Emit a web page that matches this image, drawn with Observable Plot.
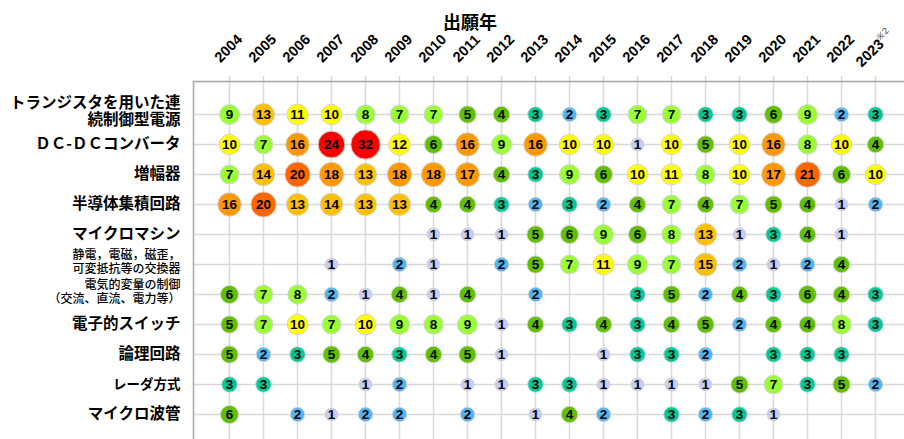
<!DOCTYPE html>
<html>
<head>
<meta charset="utf-8">
<script src="https://cdn.jsdelivr.net/npm/d3@7"></script>
<script src="https://cdn.jsdelivr.net/npm/@observablehq/plot@0.6"></script>
<style>
  html, body { margin: 0; padding: 0; background: #fff; }
  #chart svg { display: block; }
</style>
</head>
<body>
<div id="chart"></div>
<script>
// ---- data ----
const years = ["2004","2005","2006","2007","2008","2009","2010","2011","2012","2013","2014","2015","2016","2017","2018","2019","2020","2021","2022","2023"];
const yearLabels = ["2004","2005","2006","2007","2008","2009","2010","2011","2012","2013","2014","2015","2016","2017","2018","2019","2020","2021","2022","2023※2"];
const chartTitle = "出願年";

const categories = [
  "トランジスタを用いた連続制御型電源",
  "ＤＣ-ＤＣコンバータ",
  "増幅器",
  "半導体集積回路",
  "マイクロマシン",
  "静電，電磁，磁歪，可変抵抗等の交換器",
  "電気的変量の制御（交流、直流、電力等）",
  "電子的スイッチ",
  "論理回路",
  "レーダ方式",
  "マイクロ波管"
];
const categoryLabels = [
  "トランジスタを用いた連\n続制御型電源",
  "ＤＣ-ＤＣコンバータ",
  "増幅器",
  "半導体集積回路",
  "マイクロマシン",
  "静電，電磁，磁歪，\n可変抵抗等の交換器",
  "電気的変量の制御\n（交流、直流、電力等）",
  "電子的スイッチ",
  "論理回路",
  "レーダ方式",
  "マイクロ波管"
];

const vTransistorPower = [9,13,11,10,8,7,7,5,4,3,2,3,7,7,3,3,6,9,2,3];
const vDcDc            = [10,7,16,24,32,12,6,16,9,16,10,10,1,10,5,10,16,8,10,4];
const vAmplifier       = [7,14,20,18,13,18,18,17,4,3,9,6,10,11,8,10,17,21,6,10];
const vSemiconductorIC = [16,20,13,14,13,13,4,4,3,2,3,2,4,7,4,7,5,4,1,2];
const vMicromachine    = [null,null,null,null,null,null,1,1,1,5,6,9,6,8,13,1,3,4,1,null];
const vTransducer      = [null,null,null,1,null,2,1,null,2,5,7,11,9,7,15,2,1,2,4,null];
const vElecControl     = [6,7,8,2,1,4,1,4,null,2,null,null,3,5,2,4,3,6,4,3];
const vElecSwitch      = [5,7,10,7,10,9,8,9,1,4,3,4,3,4,5,2,4,4,8,3];
const vLogicCircuit    = [5,2,3,5,4,3,4,5,1,null,null,1,3,3,2,null,3,3,3,null];
const vRadar           = [3,3,null,null,1,2,null,1,1,3,3,1,1,1,1,5,7,3,5,2];
const vMicrowaveTube   = [6,null,2,1,2,2,null,2,null,1,4,2,null,3,2,3,1,null,null,null];

const seriesValues = [vTransistorPower, vDcDc, vAmplifier, vSemiconductorIC, vMicromachine,
  vTransducer, vElecControl, vElecSwitch, vLogicCircuit, vRadar, vMicrowaveTube];

// ---- table built from the arrays ----
const cells = [];
categories.forEach((c, i) => {
  seriesValues[i].forEach((v, j) => {
    if (v != null) cells.push({category: c, year: years[j], value: v});
  });
});
const labelRows = categories.map((c, i) => ({category: c, label: categoryLabels[i]}));
const firstLabelRows = labelRows.slice(0, 1);
const smallLabelRows = labelRows.filter((d, i) => i > 0 && d.label.includes("\n"));
const bigLabelRows = labelRows.filter((d, i) => i > 0 && !d.label.includes("\n") && d.category !== "レーダ方式");
const radarLabelRows = labelRows.filter(d => d.category === "レーダ方式");

const palette = ["#c5ccf5","#4fb5f5","#00c896","#60c000","#99ff33","#ffff00","#ffc000","#ff9900","#ff6600","#ff0000"];
const font = "'Noto Sans CJK JP', 'Noto Sans', sans-serif";
const numFont = "'Liberation Sans', Arial, sans-serif";
const labelStyle = {y: "category", text: "label", frameAnchor: "left", textAnchor: "end", dx: -13, fill: "#000"};

const chart = Plot.plot({
  width: 904,
  height: 439,
  marginTop: 81,
  marginLeft: 193,
  marginRight: 0,
  marginBottom: 0,
  style: {fontFamily: font, background: "#fff", color: "#000"},
  x: {type: "point", domain: years, range: [226, 878], padding: 0, axis: null},
  y: {type: "point", domain: categories, range: [112, 415], padding: 0, axis: null},
  r: {type: "sqrt", domain: [0, 32], range: [4.7, 14.7]},
  color: {type: "threshold", domain: [2,3,4,7,10,13,16,20,24], range: palette},
  marks: [
    Plot.ruleX(years, {x: d => d, stroke: "#d9d9d9", strokeWidth: 1.5, insetTop: -5}),
    Plot.ruleY(categories, {y: d => d, stroke: "#d9d9d9", strokeWidth: 1.5}),
    Plot.frame({anchor: "top", stroke: "#a6a6a6", strokeWidth: 1.5}),
    Plot.frame({anchor: "left", stroke: "#a6a6a6", strokeWidth: 1.5}),
    Plot.dot(cells, {x: "year", y: "category", r: "value", fill: "value", stroke: "#d4d4d4", strokeWidth: 1}),
    Plot.text(cells, {x: "year", y: "category", text: d => String(d.value), fill: "#000",
      fontWeight: "bold", fontSize: 13.5, fontFamily: numFont}),
    Plot.text(years, {x: d => d, text: (d, i) => yearLabels[i], frameAnchor: "top", dx: -5, dy: -37, rotate: -45,
      fontWeight: "bold", fontSize: 14.5, fill: "#000", fontFamily: numFont}),
    Plot.text(firstLabelRows, {...labelStyle, dy: -3, fontSize: 15.5, fontWeight: "bold", lineHeight: 1.1}),
    Plot.text(bigLabelRows, {...labelStyle, fontSize: 15.5, fontWeight: "bold"}),
    Plot.text(radarLabelRows, {...labelStyle, fontSize: 13.5, fontWeight: "bold"}),
    Plot.text(smallLabelRows, {...labelStyle, dy: -3, fontSize: 12, fontWeight: 500, lineHeight: 1.12}),
    Plot.text([chartTitle], {text: d => d, frameAnchor: "top", dy: -65, dx: -79,
      fontSize: 18, fontWeight: "bold", fill: "#000"})
  ]
});

// superscript ※2 on the last year label
d3.select(chart).selectAll("text").filter(function() { return this.textContent === yearLabels[yearLabels.length - 1]; })
  .each(function() {
    const full = this.textContent;
    const base = full.replace("※2", "");
    const sel = d3.select(this);
    sel.text(base);
    sel.append("tspan").attr("font-size", 9).attr("font-weight", "normal").attr("fill", "#444").attr("dy", "-0.7em").text("※2");
  });

document.getElementById("chart").appendChild(chart);
</script>
</body>
</html>
